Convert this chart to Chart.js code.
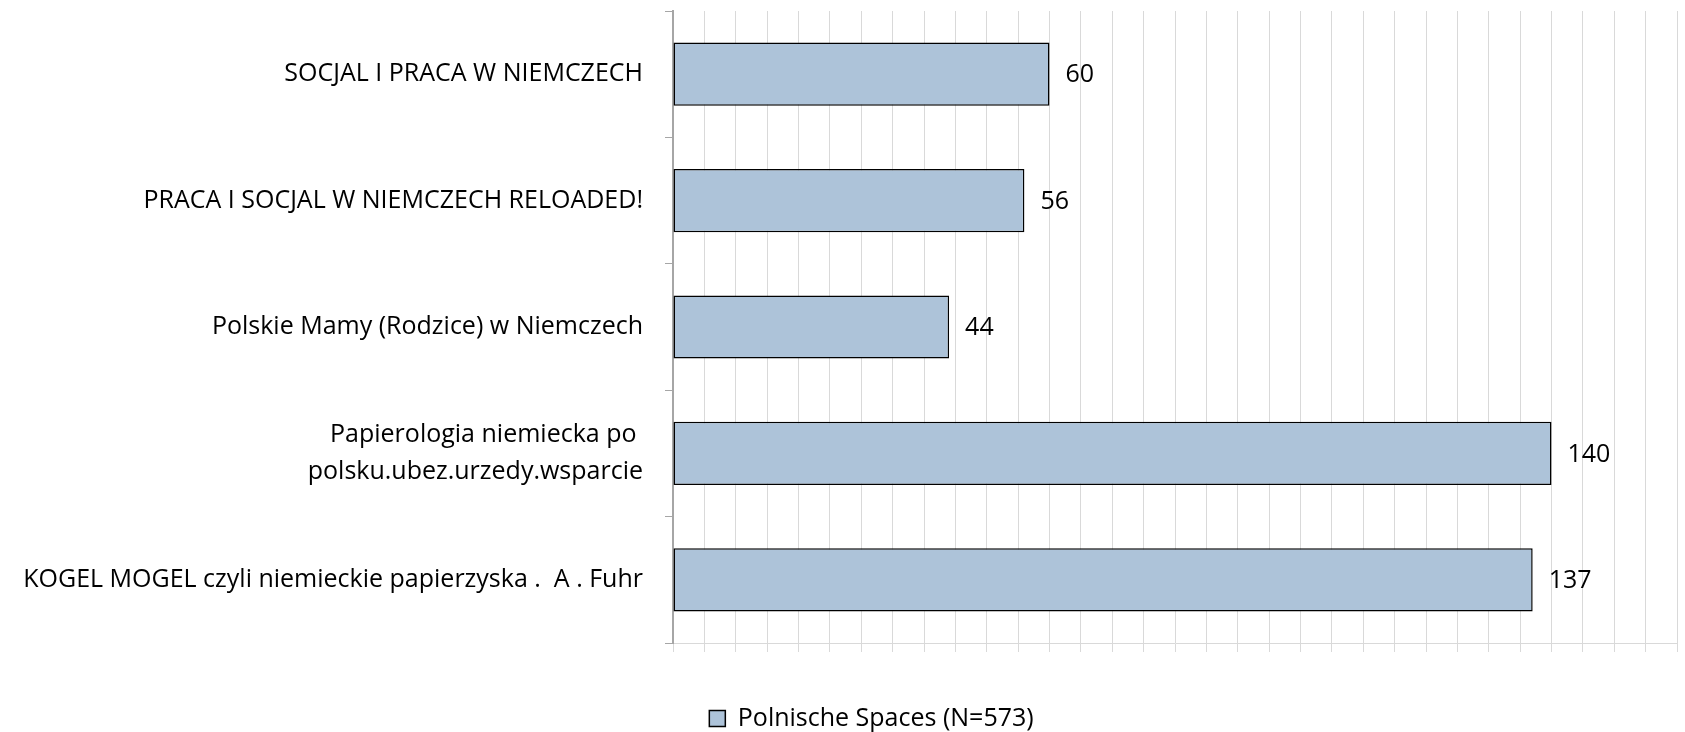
<!DOCTYPE html>
<html>
<head>
<meta charset="utf-8">
<script src="https://cdn.jsdelivr.net/npm/chart.js@4.4.0/dist/chart.umd.min.js"></script>
<style>
  body { margin: 0; background: #fff; }
</style>
</head>
<body>
<canvas id="myChart" width="1685" height="732"></canvas>
<script>
// data
const groups = [
    'SOCJAL I PRACA W NIEMCZECH',
    'PRACA I SOCJAL W NIEMCZECH RELOADED!',
    'Polskie Mamy (Rodzice) w Niemczech',
    ['Papierologia niemiecka po ', 'polsku.ubez.urzedy.wsparcie'],
    'KOGEL MOGEL czyli niemieckie papierzyska .  A . Fuhr'
];
const members = [60, 56, 44, 140, 137];
const seriesName = 'Polnische Spaces (N=573)';
const xMax = 160;
const xStep = 5;

const font = '"Open Sans", sans-serif';
const fontSize = 25;

// draws the number next to the end of each bar
const valueLabels = {
    id: 'valueLabels',
    afterDatasetsDraw(chart) {
        const ctx = chart.ctx;
        ctx.save();
        ctx.font = fontSize + 'px ' + font;
        ctx.fillStyle = '#000';
        ctx.textAlign = 'left';
        ctx.textBaseline = 'middle';
        chart.getDatasetMeta(0).data.forEach((bar, i) => {
            ctx.fillText(chart.data.datasets[0].data[i], bar.x + 16, bar.y + 1);
        });
        ctx.restore();
    }
};

// the legend sits a bit right of the page centre in the original
const legendShift = {
    id: 'legendShift',
    afterLayout(chart) {
        chart.legend.left += 33;
        chart.legend.right += 33;
    }
};

const ctx = document.getElementById('myChart').getContext('2d');
const myChart = new Chart(ctx, {
    type: 'bar',
    data: {
        labels: groups,
        datasets: [{
            label: seriesName,
            data: members,
            backgroundColor: '#adc3d9',
            borderColor: '#000',
            borderWidth: 1.5,
            borderSkipped: false,
            barPercentage: 0.5,
            categoryPercentage: 1
        }]
    },
    options: {
        indexAxis: 'y',
        responsive: false,
        animation: false,
        devicePixelRatio: 1,
        layout: {
            padding: { left: 0, right: 8, top: 11, bottom: -9 }
        },
        scales: {
            x: {
                min: 0,
                max: xMax,
                ticks: { stepSize: xStep, display: false },
                grid: { color: '#d9d9d9', tickLength: 9, lineWidth: 1 },
                border: { color: '#d9d9d9', width: 1 },
                afterFit: (scale) => { scale.height = 53; }
            },
            y: {
                grid: {
                    offset: true,
                    drawOnChartArea: false,
                    tickLength: 8,
                    color: '#a6a6a6'
                },
                border: { color: '#a6a6a6', width: 2 },
                ticks: {
                    color: '#000',
                    padding: 22,
                    font: { family: font, size: fontSize, lineHeight: 1.46 }
                },
                afterFit: (scale) => {
                    scale.width = 673;
                    scale.paddingTop = 0;
                    scale.paddingBottom = 0;
                }
            }
        },
        plugins: {
            legend: {
                position: 'bottom',
                labels: {
                    color: '#000',
                    boxWidth: 16,
                    boxHeight: 16,
                    padding: 10,
                    font: { family: font, size: fontSize }
                }
            },
            tooltip: { enabled: false }
        }
    },
    plugins: [valueLabels, legendShift]
});
</script>
</body>
</html>
